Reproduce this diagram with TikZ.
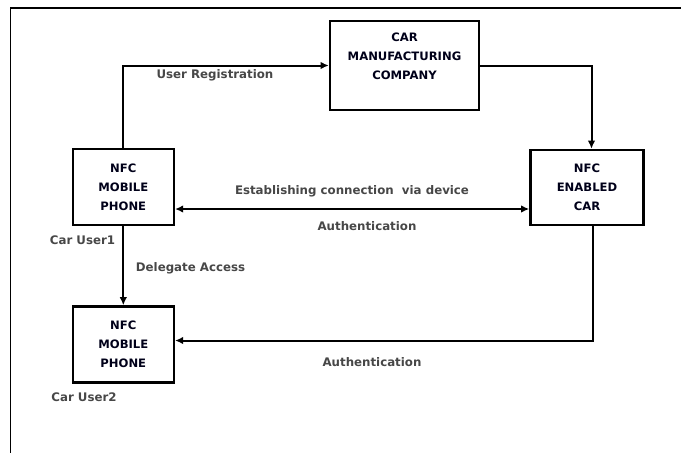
\documentclass[tikz,border=0pt]{standalone}
\usepackage{fontspec}
\setmainfont{DejaVu Sans}
\usetikzlibrary{arrows.meta}
\tikzset{
	block/.style={draw, line width=2.6pt, align=center, font=\bfseries\fontsize{11.6}{19}\selectfont, text=black!90!blue, inner sep=0pt},
	lbl/.style={font=\bfseries\fontsize{11.8}{14}\selectfont, text=black!72, inner sep=0pt},
	link/.style={line width=2pt, -{Latex[length=8pt,width=7.5pt]}},
}
\begin{document}
\begin{tikzpicture}[x=1pt,y=-1pt]
			\useasboundingbox (0,0) rectangle (681,453);
			\draw[line width=1.6pt] (10.5,453) -- (10.5,8) -- (681,8);
			\node	(mfg) at (404.5,65.5) [block, minimum width=149pt, minimum height=89pt] {CAR\\MANUFACTURING\\COMPANY\\\mbox{}};
			\node	(phone1) at (123.3,187) [block, minimum width=101pt, minimum height=76pt] {NFC\\MOBILE\\PHONE};
			\node	(car) at (587,187.5) [block, minimum width=113pt, minimum height=75pt] {NFC\\ENABLED\\CAR};
			\node	(phone2) at (123.3,344.5) [block, minimum width=101pt, minimum height=76pt] {NFC\\MOBILE\\PHONE};
			\coordinate (conn) at (352,209);
			
			\node   (reg) at (215,75) [lbl] {User Registration};
			\node   (est) at (352,191) [lbl] {Establishing connection~ via device};
			\node   (auth1) at (367,226) [lbl] {Authentication};
			\node   (deleg) at (190.5,268) [lbl] {Delegate Access};
			\node   (auth2) at (372,362) [lbl] {Authentication};
			\node   (user1) at (82.5,240) [lbl] {Car User1};
			\node   (user2) at (84,397) [lbl] {Car User2};
			
			\draw[link] (phone1.north) |- (mfg.west);
			\draw[link] (mfg.east) -| ([xshift=4.5pt]car.north);
			\draw[link, {Latex[length=8pt,width=7.5pt]}-{Latex[length=8pt,width=7.5pt]}] (phone1.east |- conn) -- (car.west |- conn);
			\draw[link] (phone1.south) -- (phone2.north);
			\draw[link] ([xshift=5.5pt]car.south) |- ([yshift=4pt]phone2.east);
		\end{tikzpicture}
\end{document}
